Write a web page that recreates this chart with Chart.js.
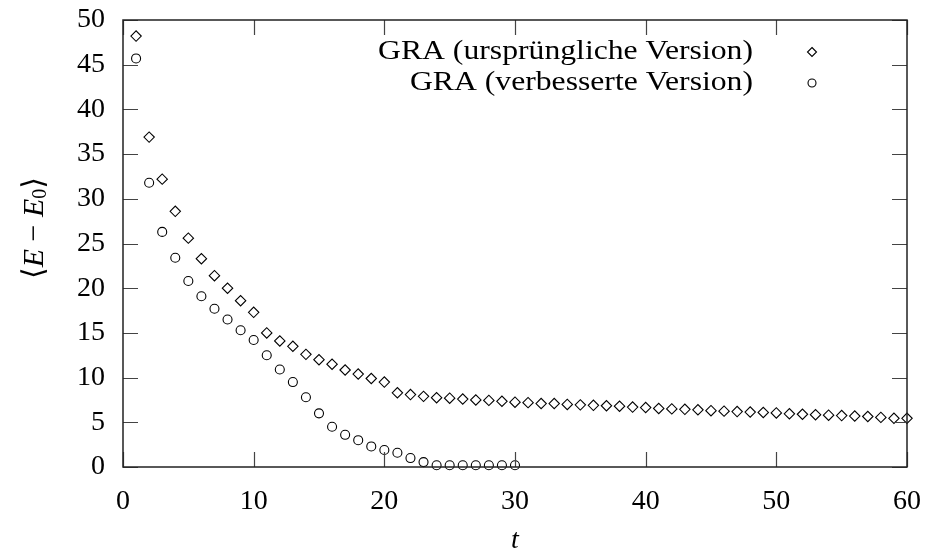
<!DOCTYPE html>
<html lang="de">
<head>
  <meta charset="UTF-8" />
  <title>GRA Energiedifferenz</title>
  <script src="https://cdn.jsdelivr.net/npm/chart.js"></script>
  <style>
    html, body { margin: 0; padding: 0; background: #fff; }
    #wrap { width: 929px; height: 558px; }
  </style>
</head>
<body>
  <div id="wrap"><canvas id="energyChart"></canvas></div>

  <script>
    // Zeitschritte t
    const stepsOriginal = [
      1, 2, 3, 4, 5, 6, 7, 8, 9, 10, 11, 12, 13, 14, 15, 16, 17, 18, 19, 20,
      21, 22, 23, 24, 25, 26, 27, 28, 29, 30, 31, 32, 33, 34, 35, 36, 37, 38, 39, 40,
      41, 42, 43, 44, 45, 46, 47, 48, 49, 50, 51, 52, 53, 54, 55, 56, 57, 58, 59, 60
    ];
    const stepsImproved = [
      1, 2, 3, 4, 5, 6, 7, 8, 9, 10, 11, 12, 13, 14, 15,
      16, 17, 18, 19, 20, 21, 22, 23, 24, 25, 26, 27, 28, 29, 30
    ];

    // <E - E0> je Zeitschritt
    const energyOriginal = [
      48.2, 36.9, 32.2, 28.6, 25.6, 23.3, 21.4, 20.0, 18.6, 17.3,
      15.0, 14.1, 13.5, 12.6, 12.0, 11.5, 10.85, 10.4, 9.9, 9.5,
      8.3, 8.1, 7.9, 7.75, 7.7, 7.6, 7.5, 7.45, 7.35, 7.25,
      7.2, 7.1, 7.1, 7.0, 6.95, 6.9, 6.85, 6.8, 6.7, 6.65,
      6.55, 6.5, 6.45, 6.4, 6.3, 6.25, 6.2, 6.15, 6.1, 6.05,
      5.95, 5.9, 5.85, 5.8, 5.75, 5.7, 5.65, 5.55, 5.45, 5.45
    ];
    const energyImproved = [
      45.7, 31.8, 26.3, 23.4, 20.8, 19.1, 17.7, 16.5, 15.3, 14.2,
      12.5, 10.9, 9.5, 7.8, 6.0, 4.5, 3.6, 3.0, 2.3, 1.9,
      1.6, 1.0, 0.55, 0.2, 0.2, 0.2, 0.2, 0.2, 0.2, 0.2
    ];

    const labels = ["GRA (ursprüngliche Version)", "GRA (verbesserte Version)"];

    const SERIF = "'Liberation Serif', 'DejaVu Serif', serif";
    const FONT_SIZE = 28;

    const toPoints = (xs, ys) => xs.map((x, i) => ({ x: x, y: ys[i] }));

    function drawMarker(ctx, style, x, y, r) {
      ctx.beginPath();
      if (style === "rectRot") {
        ctx.moveTo(x, y - r);
        ctx.lineTo(x + r, y);
        ctx.lineTo(x, y + r);
        ctx.lineTo(x - r, y);
        ctx.closePath();
      } else {
        ctx.arc(x, y, r, 0, Math.PI * 2);
      }
      ctx.stroke();
    }

    // Rahmen mit nach innen zeigenden Ticks, Legende und Achsentitel
    const gnuplotFrame = {
      id: "gnuplotFrame",
      afterDatasetsDraw(chart) {
        const { ctx, chartArea: a, scales } = chart;
        const tickLen = 15;
        ctx.save();

        ctx.strokeStyle = "#444";
        ctx.lineWidth = 1.2;
        ctx.beginPath();
        scales.x.ticks.forEach(t => {
          const px = Math.round(scales.x.getPixelForValue(t.value)) + 0.5;
          ctx.moveTo(px, a.bottom); ctx.lineTo(px, a.bottom - tickLen);
          ctx.moveTo(px, a.top); ctx.lineTo(px, a.top + tickLen);
        });
        scales.y.ticks.forEach(t => {
          const py = Math.round(scales.y.getPixelForValue(t.value)) + 0.5;
          ctx.moveTo(a.left, py); ctx.lineTo(a.left + tickLen, py);
          ctx.moveTo(a.right, py); ctx.lineTo(a.right - tickLen, py);
        });
        ctx.stroke();

        ctx.strokeStyle = "#222";
        ctx.lineWidth = 1.5;
        ctx.strokeRect(a.left, a.top, a.right - a.left, a.bottom - a.top);

        // Legende: Text rechtsbündig (auf Zielbreite gestreckt), Symbol rechts daneben
        const legendWidths = [375, 343];
        ctx.fillStyle = "#000";
        ctx.font = FONT_SIZE + "px " + SERIF;
        ctx.textAlign = "right";
        ctx.textBaseline = "middle";
        chart.data.datasets.forEach((ds, i) => {
          const y = 52 + i * 31;
          const w = ctx.measureText(ds.label).width;
          ctx.save();
          ctx.translate(753, y);
          ctx.scale(legendWidths[i] / w, 1);
          ctx.fillText(ds.label, 0, 0);
          ctx.restore();
          ctx.strokeStyle = "#000";
          ctx.lineWidth = 1.1;
          drawMarker(ctx, ds.pointStyle, 812, y, ds.pointStyle === "rectRot" ? 4.5 : 4);
        });

        // x-Achsentitel
        ctx.font = "italic " + FONT_SIZE + "px " + SERIF;
        ctx.textAlign = "center";
        ctx.fillText("t", (a.left + a.right) / 2, 541);

        // y-Achsentitel <E - E0>
        const parts = [
          { text: "\u27E8", font: "30px " + SERIF, dy: 0 },
          { text: "E", font: "italic 30px " + SERIF, dy: 0 },
          { text: " \u2212 ", font: "30px " + SERIF, dy: 0 },
          { text: "E", font: "italic 30px " + SERIF, dy: 0 },
          { text: "0", font: "20px " + SERIF, dy: 6 },
          { text: "\u27E9", font: "30px " + SERIF, dy: 0 }
        ];
        let total = 0;
        parts.forEach(p => { ctx.font = p.font; p.w = ctx.measureText(p.text).width; total += p.w; });
        ctx.translate(35, 228);
        ctx.rotate(-Math.PI / 2);
        ctx.textAlign = "left";
        let cx = -total / 2;
        parts.forEach(p => {
          ctx.font = p.font;
          ctx.fillText(p.text, cx, p.dy);
          cx += p.w;
        });

        ctx.restore();
      }
    };

    new Chart(document.getElementById("energyChart"), {
      type: "scatter",
      data: {
        datasets: [
          {
            label: labels[0],
            data: toPoints(stepsOriginal, energyOriginal),
            pointStyle: "rectRot",
            pointRadius: 5.2,
            pointBorderWidth: 1.1,
            borderColor: "#000",
            backgroundColor: "rgba(0,0,0,0)",
            clip: false
          },
          {
            label: labels[1],
            data: toPoints(stepsImproved, energyImproved),
            pointStyle: "circle",
            pointRadius: 4.5,
            pointBorderWidth: 1.1,
            borderColor: "#000",
            backgroundColor: "rgba(0,0,0,0)",
            clip: false
          }
        ]
      },
      options: {
        responsive: true,
        maintainAspectRatio: false,
        animation: false,
        layout: { padding: { top: 20, right: 22, left: 0, bottom: 0 } },
        plugins: {
          legend: { display: false },
          tooltip: { enabled: false }
        },
        scales: {
          x: {
            type: "linear",
            min: 0,
            max: 60,
            grid: { display: false, drawTicks: false },
            border: { display: false },
            ticks: {
              stepSize: 10,
              padding: 18,
              color: "#000",
              maxRotation: 0,
              font: { family: SERIF, size: FONT_SIZE }
            },
            afterFit(scale) {
              scale.height = 91;
              scale.paddingLeft = 0;
              scale.paddingRight = 0;
            }
          },
          y: {
            min: 0,
            max: 50,
            grid: { display: false, drawTicks: false },
            border: { display: false },
            ticks: {
              stepSize: 5,
              padding: 18,
              color: "#000",
              font: { family: SERIF, size: FONT_SIZE }
            },
            afterFit(scale) {
              scale.width = 123;
              scale.paddingTop = 0;
              scale.paddingBottom = 0;
            }
          }
        }
      },
      plugins: [gnuplotFrame]
    });
  </script>
</body>
</html>
